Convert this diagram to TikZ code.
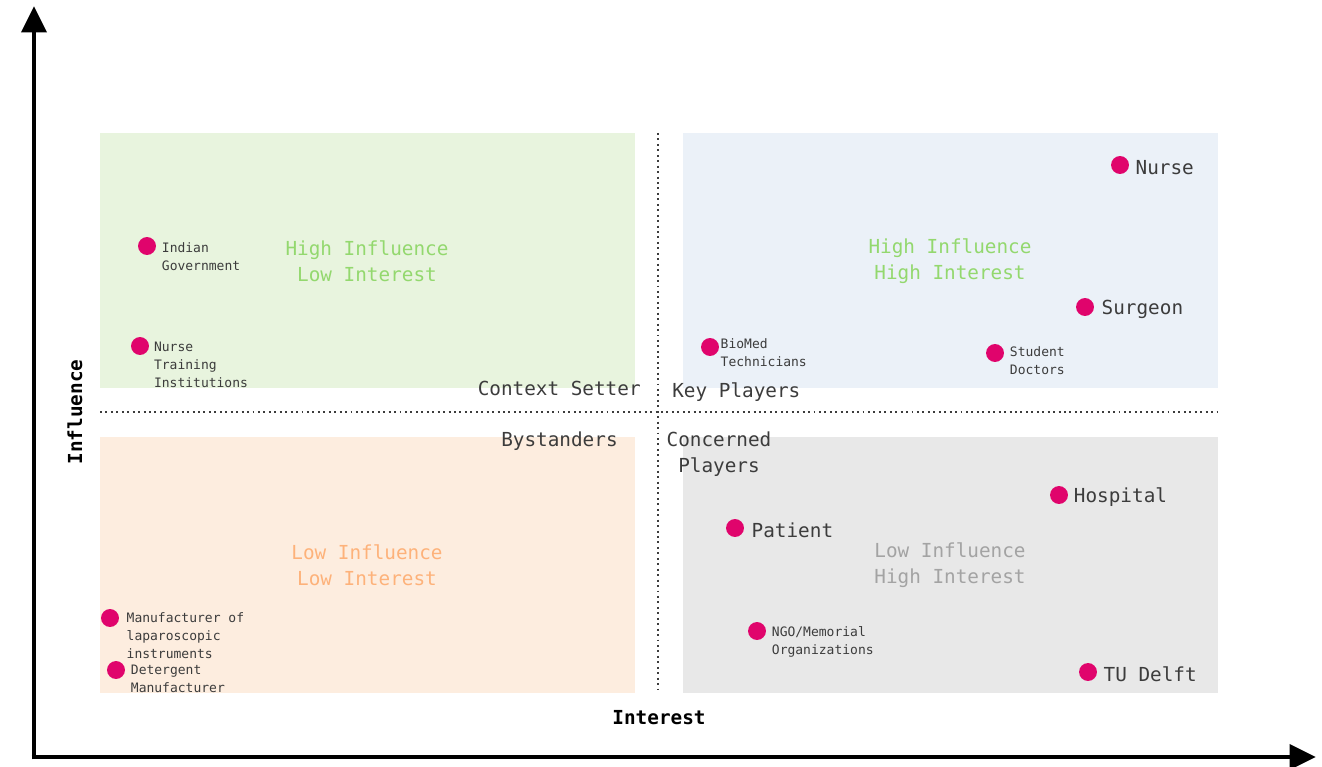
\documentclass[tikz,border=0pt]{standalone}
\usepackage{fontspec}
\setmonofont{DejaVu Sans Mono}
\usepackage{tikz}
\usetikzlibrary{arrows.meta,positioning}

\definecolor{greenbg}{HTML}{E8F4DE}
\definecolor{bluebg}{HTML}{EBF1F8}
\definecolor{orangebg}{HTML}{FDEDDF}
\definecolor{graybg}{HTML}{E8E8E8}
\definecolor{greenink}{HTML}{93D86E}
\definecolor{orangeink}{HTML}{FDB27A}
\definecolor{grayink}{HTML}{A3A3A3}
\definecolor{darkink}{HTML}{3C3C3C}
\definecolor{dotpink}{HTML}{E0046C}

\tikzset{
	dot/.style={circle,fill=dotpink,inner sep=0pt,minimum size=10.2pt},
	tag/.style={inner sep=0pt,text=darkink,font=\ttfamily\fontsize{11}{14.7}\selectfont},
	smalltag/.style={inner sep=0pt,align=left,anchor=north west,text=darkink,font=\ttfamily\fontsize{7.4}{10.2}\selectfont},
	quad/.style={inner sep=0pt,align=center,font=\ttfamily\fontsize{11}{14.7}\selectfont},
	axis/.style={line width=2.8pt,-{Triangle[length=15pt,width=14pt]}},
	divider/.style={darkink,dotted,line width=1.1pt},
}

\begin{document}
\begin{tikzpicture}[x=0.02cm,y=-0.02cm]
		\useasboundingbox (0,0) rectangle (1322,767);
		% quadrants
		\fill[greenbg] (100,133) rectangle (635,388);
		\fill[bluebg] (683,133) rectangle (1218,388);
		\fill[orangebg] (100,437) rectangle (635,693);
		\fill[graybg] (683,437) rectangle (1218,693);
		\draw[divider] (658,133) -- (658,693);
		\draw[divider] (100,412) -- (1220,412);
		% axes
		\coordinate (origin) at (34,757);
		\coordinate (ytip) at (34,6);
		\coordinate (xtip) at (1316,757);
		\draw[axis] ([yshift=-1.4pt]origin) -- (ytip);
		\draw[axis] ([xshift=-1.4pt]origin) -- (xtip);
		\node[quad,rotate=90,font=\ttfamily\bfseries\fontsize{11}{14.7}\selectfont] (yname) at (75,412) {Influence};
		\node[quad,font=\ttfamily\bfseries\fontsize{11}{14.7}\selectfont] (xname) at (659,718) {Interest};
		% quadrant captions
		\node[quad,text=greenink] (hilo) at (367,261) {High Influence\\Low Interest};
		\node[quad,text=greenink] (hihi) at (950,261) {High Influence\\High Interest};
		\node[quad,text=orangeink] (lolo) at (367,565) {Low Influence\\Low Interest};
		\node[quad,text=grayink] (lohi) at (950,565) {Low Influence\\High Interest};
		\node[tag,anchor=east] (setter) at (641,388) {Context Setter};
		\node[tag,anchor=west] (players) at (672,392) {Key Players};
		\node[tag,anchor=east] (bystand) at (618,441) {Bystanders};
		\node[quad,text=darkink] (concern) at (719,454) {Concerned\\Players};
		% stakeholders
		\node[dot] (gov) at (147,246) {};
		\node[smalltag] (govtag) at ([xshift=3pt,yshift=2.2pt]gov.east) {Indian\\Government};
		\node[dot] (train) at (140,346) {};
		\node[smalltag] (traintag) at ([xshift=2.5pt,yshift=2.2pt]train.east) {Nurse\\Training\\Institutions};
		\node[dot] (maker) at (110,618) {};
		\node[smalltag] (makertag) at ([xshift=4pt,yshift=3.3pt]maker.east) {Manufacturer of\\laparoscopic\\instruments};
		\node[dot] (soap) at (116,670) {};
		\node[smalltag] (soaptag) at ([xshift=3pt,yshift=2.8pt]soap.east) {Detergent\\Manufacturer};
		\node[dot] (biomed) at (710,347) {};
		\node[smalltag] (biomedtag) at ([xshift=0.6pt,yshift=5pt]biomed.east) {BioMed\\Technicians};
		\node[dot] (student) at (995,353) {};
		\node[smalltag] (studenttag) at ([xshift=3pt,yshift=3.9pt]student.east) {Student\\Doctors};
		\node[dot] (ngo) at (757,631) {};
		\node[smalltag] (ngotag) at ([xshift=3pt,yshift=2.8pt]ngo.east) {NGO/Memorial\\Organizations};
		\node[dot] (nurse) at (1120,165) {};
		\node[tag,right=3.4pt of nurse,yshift=-1.2pt] (nursetag) {Nurse};
		\node[dot] (surgeon) at (1085,307) {};
		\node[tag,right=4pt of surgeon,yshift=-1.2pt] (surgeontag) {Surgeon};
		\node[dot] (hospital) at (1059,495) {};
		\node[tag,right=3pt of hospital,yshift=-1.2pt] (hospitaltag) {Hospital};
		\node[dot] (patient) at (735,528) {};
		\node[tag,right=4pt of patient,yshift=-1.2pt] (patienttag) {Patient};
		\node[dot] (delft) at (1088,672) {};
		\node[tag,right=3.4pt of delft,yshift=-1.2pt] (delfttag) {TU Delft};
	\end{tikzpicture}
\end{document}
